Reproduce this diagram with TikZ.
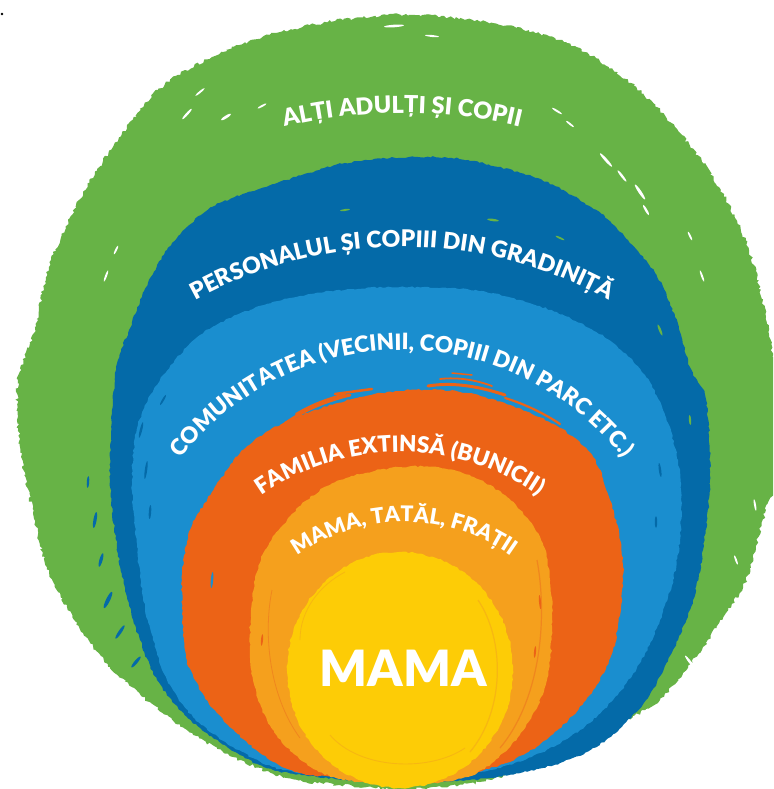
\documentclass[tikz,border=0pt]{standalone}
\usepackage{fontspec}
\setmainfont{Lato}[BoldFont={Lato Black}]
\usetikzlibrary{decorations.text,decorations.pathmorphing}

\definecolor{ringgreen}{RGB}{103,179,70}
\definecolor{ringnavy}{RGB}{4,106,168}
\definecolor{ringsky}{RGB}{26,142,207}
\definecolor{ringred}{RGB}{236,99,22}
\definecolor{ringorange}{RGB}{245,160,29}
\definecolor{ringyellow}{RGB}{253,204,6}
\definecolor{yellowstreak}{RGB}{247,183,18}
\definecolor{orangestreak}{RGB}{240,134,30}

\tikzset{
  brush/.style={decorate, decoration={random steps, segment length=3pt, amplitude=0.9pt}},
  roughbrush/.style={decorate, decoration={random steps, segment length=2.5pt, amplitude=1.6pt}},
  streak/.style={line cap=round},
  ringlabel/.style={decorate, decoration={text along path, text align=center, text color=white, text={#1}}},
}
% a thin paint fleck: #1 centre, #2 half length, #3 half width, #4 angle
\newcommand{\fleck}[4]{\fill[rotate around={#4:#1}] #1 ellipse[x radius=#2, y radius=#3];}

\begin{document}
\begin{tikzpicture}[x=1pt, y=-1pt]
\pgfmathsetseed{11}
\useasboundingbox (0,0) rectangle (773,789);
\clip (0,0) rectangle (773,789);

% outer ring: other adults and children
\fill[ringgreen, roughbrush] plot[smooth cycle, tension=0.55] coordinates {
 (419,15) (493,23) (567,43) (631,83) (680,133) (719,187) (749,250) (766,317)
 (776,383) (776,480) (765,513) (746,580) (726,613) (703,647) (683,673) (663,697)
 (633,717) (590,740) (540,763) (480,782) (410,789) (340,785) (287,778) (233,757)
 (187,730) (143,697) (110,667) (83,633) (67,607) (47,567) (33,513) (20,447)
 (18,380) (34,333) (49,267) (79,200) (113,147) (158,90) (212,57) (276,33) (355,18)};
% dry-brush gaps in the green, running along the ring
\begin{scope}[white]
\fleck{(394,26)}{10}{1.3}{4}
\fleck{(432,36)}{7}{1}{-6}
\fleck{(200,92)}{6}{1}{40}
\fleck{(187,114)}{7}{1.2}{48}
\fleck{(226,117)}{6}{1.4}{32}
\fleck{(262,106)}{5}{1}{28}
\fleck{(557,111)}{6}{1}{-32}
\fleck{(570,124)}{5}{1}{-38}
\fleck{(606,160)}{9}{1.4}{-48}
\fleck{(622,176)}{7}{1.2}{-52}
\fleck{(640,192)}{9}{1.5}{-56}
\fleck{(646,210)}{6}{1.2}{-60}
\fleck{(690,236)}{5}{1}{-64}
\fleck{(702,276)}{6}{1}{-70}
\fleck{(116,250)}{5}{1}{64}
\fleck{(106,276)}{6}{1}{70}
\fleck{(120,470)}{5}{1}{88}
\fleck{(50,652)}{4}{1}{58}
\fleck{(92,692)}{8}{1.3}{44}
\fleck{(152,736)}{10}{1.5}{32}
\fleck{(215,765)}{11}{1.5}{22}
\fleck{(755,505)}{6}{1}{-80}
\fleck{(736,560)}{5}{1}{-70}
\fleck{(690,662)}{8}{1.3}{-52}
\fleck{(640,722)}{9}{1.5}{-40}
\end{scope}

% kindergarten ring
\fill[ringnavy, brush] plot[smooth cycle, tension=0.55] coordinates {
 (409,157) (468,160) (542,180) (591,207) (616,227) (655,273) (675,317) (690,367)
 (706,400) (710,480) (703,550) (693,600) (673,650) (646,700) (606,740) (560,763)
 (490,778) (420,782) (350,780) (273,770) (227,747) (187,717) (157,680) (140,640)
 (127,597) (117,547) (110,480) (113,400) (118,360) (128,333) (148,283) (167,250)
 (187,227) (212,207) (246,193) (296,177) (345,163)};
\begin{scope}[ringgreen]
\fleck{(345,210)}{5}{1}{8}
\fleck{(493,220)}{6}{1.2}{-8}
\fleck{(560,238)}{5}{1}{-25}
\fleck{(660,330)}{6}{1.2}{-68}
\fleck{(690,420)}{5}{1.2}{-85}
\end{scope}
\begin{scope}[ringnavy]
\fleck{(95,520)}{8}{1.6}{80}
\fleck{(101,560)}{7}{1.6}{74}
\fleck{(108,600)}{9}{2}{64}
\fleck{(120,632)}{8}{1.6}{56}
\fleck{(136,662)}{7}{1.6}{50}
\fleck{(88,482)}{6}{1.2}{86}
\end{scope}

% community ring
\fill[ringsky, brush] plot[smooth cycle, tension=0.55] coordinates {
 (400,287) (467,289) (520,300) (570,318) (612,342) (645,375) (665,415) (678,460)
 (681,500) (680,540) (673,580) (660,620) (640,663) (613,700) (580,730) (540,753)
 (490,770) (420,778) (350,775) (283,770) (233,747) (193,717) (167,680) (153,640)
 (143,597) (137,547) (132,480) (138,425) (160,380) (200,335) (250,310) (300,296) (350,289)};
\begin{scope}[ringnavy]
\fleck{(141,430)}{8}{1.2}{76}
\fleck{(146,470)}{9}{1.2}{82}
\fleck{(150,512)}{7}{1.2}{86}
\fleck{(163,400)}{6}{1}{60}
\fleck{(660,470)}{7}{1.2}{-82}
\fleck{(656,522)}{6}{1.2}{-90}
\end{scope}

% extended family ring
\fill[ringred, brush] plot[smooth cycle, tension=0.55] coordinates {
 (410,390) (460,392) (510,405) (560,428) (593,457) (610,500) (620,540) (623,580)
 (613,650) (586,700) (546,740) (506,763) (460,775) (410,778) (350,777) (300,773)
 (260,753) (217,713) (195,680) (185,650) (182,580) (190,530) (207,500) (227,470)
 (243,450) (270,430) (310,412) (360,397)};
% ragged brush strokes on top of the red ring
\begin{scope}[ringred, streak]
\draw[line width=3pt] (282,426) .. controls (300,412) and (322,402) .. (350,395);
\draw[line width=2pt] (296,414) .. controls (312,404) and (330,398) .. (345,394);
\draw[line width=2.5pt] (335,394) -- (372,389);
\draw[line width=3pt] (428,386) .. controls (452,382) and (478,386) .. (505,395);
\draw[line width=1.8pt] (440,379) .. controls (458,377) and (476,380) .. (492,386);
\draw[line width=1.5pt] (452,373) -- (472,375);
\draw[line width=2.2pt] (505,398) .. controls (525,404) and (545,414) .. (560,424);
\end{scope}
\begin{scope}[ringsky]
\fleck{(212,580)}{8}{1.2}{85}
\fleck{(201,470)}{6}{1}{55}
\end{scope}

% close family ring
\fill[ringorange, brush] plot[smooth cycle, tension=0.55] coordinates {
 (400,467) (457,471) (507,497) (540,537) (550,580) (552,630) (547,680) (530,720)
 (503,753) (467,777) (400,785) (333,777) (293,753) (267,720) (253,680) (250,630)
 (255,580) (265,550) (283,525) (307,500) (340,480)};
\draw[orangestreak, line width=1.2pt] (537,560) .. controls (548,620) and (540,700) .. (500,748);
\draw[orangestreak, line width=0.8pt] (272,590) .. controls (262,640) and (272,700) .. (300,738);
\begin{scope}[ringred]
\fleck{(540,602)}{7}{1}{-85}
\fleck{(535,652)}{6}{1}{-95}
\fleck{(262,640)}{6}{1}{85}
\end{scope}

% centre: mother
\fill[ringyellow, brush] (400,670) ellipse[x radius=113, y radius=118];
\draw[yellowstreak, line width=1.2pt] (478,600) .. controls (505,640) and (505,710) .. (470,752);
\draw[yellowstreak, line width=0.9pt] (330,735) .. controls (360,770) and (430,772) .. (465,748);
\draw[yellowstreak, line width=0.8pt] (300,640) .. controls (300,610) and (320,585) .. (345,572);

% ring labels along arcs
\path[ringlabel={|\fontsize{23.5}{23.5}\selectfont\bfseries|ALȚI ADULȚI ȘI COPII}]
  (402,613) ++(130:500pt) arc[start angle=130, end angle=50, radius=500pt];
\path[ringlabel={|\fontsize{23}{23}\selectfont\bfseries|PERSONALUL ȘI COPIII DIN GRADINIȚĂ}]
  (402,674) ++(150:427pt) arc[start angle=150, end angle=30, radius=427pt];
\path[ringlabel={|\fontsize{22.5}{22.5}\selectfont\bfseries|COMUNITATEA (VECINII, COPIII DIN PARC ETC.)}]
  (402,630) ++(175:280pt) arc[start angle=175, end angle=5, radius=280pt];
\path[ringlabel={|\fontsize{22.5}{22.5}\selectfont\bfseries|FAMILIA EXTINSĂ (BUNICII)}]
  (400,694) ++(160:242pt) arc[start angle=160, end angle=20, radius=242pt];
\path[ringlabel={|\fontsize{21.5}{21.5}\selectfont\bfseries|MAMA, TATĂL, FRAȚII}]
  (404,707) ++(160:185pt) arc[start angle=160, end angle=20, radius=185pt];

\node[text=white, inner sep=0pt, font=\fontsize{50}{50}\selectfont\bfseries] (mama) at (403,668) {MAMA};

% stray dot in the corner
\fill[black] (2,14) circle[radius=1.3];
\end{tikzpicture}
\end{document}
